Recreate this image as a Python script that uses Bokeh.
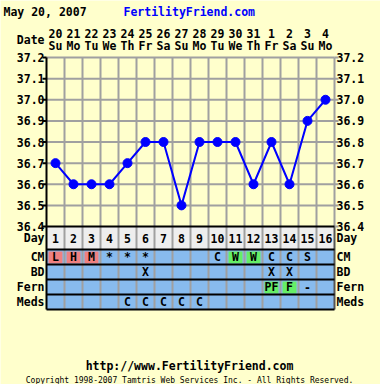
from bokeh.plotting import figure
from bokeh.models import Range1d, ColumnDataSource
from bokeh.core.properties import value
from bokeh.embed import file_html
from bokeh.resources import INLINE

# ---------------- data ----------------
chart_date = "May 20, 2007"
site_name = "FertilityFriend.com"
footer_url = "http://www.FertilityFriend.com"
footer_copy = "Copyright 1998-2007 Tamtris Web Services Inc. - All Rights Reserved."

cycle_days = list(range(1, 17))
date_nums = ["20", "21", "22", "23", "24", "25", "26", "27", "28", "29", "30", "31", "1", "2", "3", "4"]
weekdays = ["Su", "Mo", "Tu", "We", "Th", "Fr", "Sa", "Su", "Mo", "Tu", "We", "Th", "Fr", "Sa", "Su", "Mo"]
temps = [36.7, 36.6, 36.6, 36.6, 36.7, 36.8, 36.8, 36.5, 36.8, 36.8, 36.8, 36.6, 36.8, 36.6, 36.9, 37.0]
temp_ticks = [36.4, 36.5, 36.6, 36.7, 36.8, 36.9, 37.0, 37.1, 37.2]

row_labels = ["Day", "CM", "BD", "Fern", "Meds"]
cm = ["L", "H", "M", "*", "*", "*", "", "", "", "C", "W", "W", "C", "C", "S", ""]
bd = ["", "", "", "", "", "X", "", "", "", "", "", "", "X", "X", "", ""]
fern = ["", "", "", "", "", "", "", "", "", "", "", "", "PF", "F", "-", ""]
meds = ["", "", "", "", "C", "C", "C", "C", "C", "", "", "", "", "", "", ""]
pink_codes = ["L", "H", "M"]
green_codes = ["W", "PF", "F"]

# ---------------- geometry (reference pixel -> data) ----------------
W, H = 380, 384
OFF = 0
COLW = 18.0
PPU = 211.25  # pixels per degree


def tx(px):
    return 1 + (px - 55) / COLW


def ty(py):
    return 37.2 - (py - 57) / PPU


BG = "#FFFFCC"
BLUE_ROW = "#88BBEE"
GRAY = "#A0A0A0"
FONT = value("DejaVu Sans Mono")

p = figure(width=W, height=H, output_backend="svg", toolbar_location=None,
           x_axis_location=None, y_axis_location=None,
           x_range=Range1d(tx(OFF), tx(OFF + W)),
           y_range=Range1d(ty(OFF + H), ty(OFF)),
           min_border=0, outline_line_color=None,
           background_fill_color=BG, border_fill_color=BG)
p.grid.visible = False

L, R = 0.5, 16.5
rows_px = [226, 249, 264, 279, 294, 309]

p.quad(left=[L], right=[R], top=[ty(226)], bottom=[ty(249)], fill_color="#EEEEEE", line_color=None)
p.quad(left=[L], right=[R], top=[ty(249)], bottom=[ty(309)], fill_color=BLUE_ROW, line_color=None)

row_vals = {"CM": cm, "BD": bd, "Fern": fern, "Meds": meds}
row_center = {"Day": 237.5, "CM": 256.5, "BD": 271.5, "Fern": 286.5, "Meds": 301.5}
row_top = {"CM": 249, "BD": 264, "Fern": 279, "Meds": 294}
hl = dict(left=[], right=[], top=[], bottom=[], color=[])
for name, vals in row_vals.items():
    for d, v in zip(cycle_days, vals):
        if v in pink_codes or v in green_codes:
            col = "#F08080" if v in pink_codes else "#66EE66"
            hl["left"].append(d - 0.5 + 2 / COLW)
            hl["right"].append(d + 0.5 - 2 / COLW)
            hl["top"].append(ty(row_top[name] + 2))
            hl["bottom"].append(ty(row_top[name] + 14))
            hl["color"].append(col)
p.quad(left="left", right="right", top="top", bottom="bottom", fill_color="color",
       line_color=None, source=ColumnDataSource(hl))

vx = [d + 0.5 for d in cycle_days[:-1]]
p.segment(x0=vx, x1=vx, y0=[ty(57)] * len(vx), y1=[ty(309)] * len(vx), line_color=GRAY, line_width=2)
ht = temp_ticks[1:]
p.segment(x0=[L] * len(ht), x1=[R] * len(ht), y0=ht, y1=ht, line_color=GRAY, line_width=2)
p.segment(x0=[R], x1=[R], y0=[ty(57)], y1=[ty(226)], line_color=GRAY, line_width=2)
p.segment(x0=[R], x1=[R], y0=[ty(226)], y1=[ty(309)], line_color="#555555", line_width=2)
p.segment(x0=[R] * len(temp_ticks), x1=[tx(338)] * len(temp_ticks), y0=temp_ticks, y1=temp_ticks,
          line_color=GRAY, line_width=2)
p.segment(x0=[tx(42)] * len(temp_ticks), x1=[L] * len(temp_ticks), y0=temp_ticks, y1=temp_ticks,
          line_color="black", line_width=2)
p.segment(x0=[L], x1=[L], y0=[ty(57)], y1=[ty(309)], line_color="black", line_width=2)
p.segment(x0=[L] * len(rows_px), x1=[R] * len(rows_px), y0=[ty(v) for v in rows_px],
          y1=[ty(v) for v in rows_px], line_color="black", line_width=2)

p.line(cycle_days, temps, line_color="#0000FF", line_width=2)
p.scatter(cycle_days, temps, size=9, fill_color="#0000FF", line_color="#0000FF")

tstyle = dict(text_font=FONT, text_font_style="bold", text_font_size="11.5px",
              text_color="black", text_baseline="middle")

tl = [f"{t:.1f}" for t in temp_ticks]
p.text(x=[tx(44)] * len(tl), y=temp_ticks, text=tl, text_align="right", **tstyle)
p.text(x=[tx(336)] * len(tl), y=temp_ticks, text=tl, text_align="left", **tstyle)

rl_y = [ty(row_center[r]) for r in row_labels]
p.text(x=[tx(44)] * 5, y=rl_y, text=row_labels, text_align="right", **tstyle)
p.text(x=[tx(336)] * 5, y=rl_y, text=row_labels, text_align="left", **tstyle)

p.text(x=cycle_days, y=[ty(row_center["Day"])] * 16, text=[str(d) for d in cycle_days],
       text_align="center", **tstyle)
for name, vals in row_vals.items():
    p.text(x=cycle_days, y=[ty(row_center[name])] * 16, text=vals, text_align="center", **tstyle)

p.text(x=cycle_days, y=[ty(33)] * 16, text=date_nums, text_align="center", **tstyle)
p.text(x=cycle_days, y=[ty(45)] * 16, text=weekdays, text_align="center", **tstyle)
p.text(x=[tx(44)], y=[ty(39)], text=["Date"], text_align="right", **tstyle)

p.text(x=[tx(3)], y=[ty(11)], text=[chart_date], text_align="left", **tstyle)
ts2 = dict(tstyle)
ts2["text_color"] = "#0000FF"
p.text(x=[tx(123)], y=[ty(11)], text=[site_name], text_align="left", **ts2)

p.text(x=[tx(189)], y=[ty(365)], text=[footer_url], text_align="center", **tstyle)
p.text(x=[tx(189)], y=[ty(380)], text=[footer_copy], text_align="center",
       text_font=FONT, text_font_size="8px", text_color="black", text_baseline="middle")

open("out.html", "w").write(file_html(p, INLINE))
